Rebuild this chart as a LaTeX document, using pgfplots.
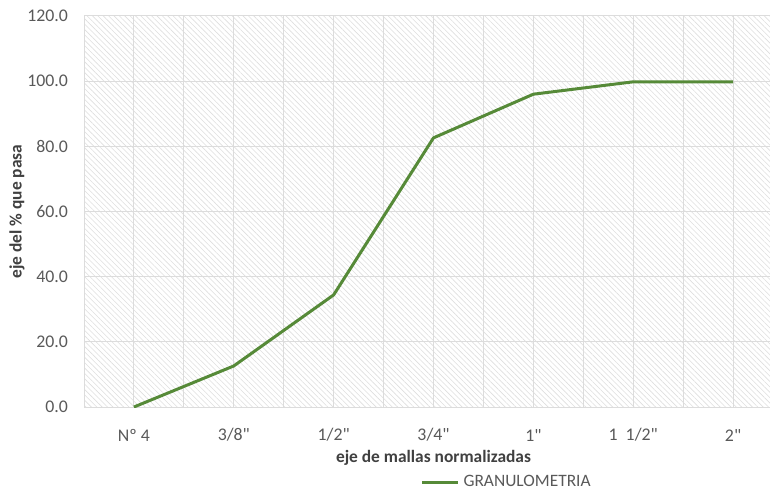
\documentclass[border=0pt]{standalone}
\usepackage{pgfplots}
\pgfplotsset{compat=1.18}
\usepackage{fontspec}
\setmainfont{Carlito}[Ligatures=TeXOff]
\usetikzlibrary{patterns.meta}
\definecolor{txtgray}{HTML}{595959}
\definecolor{titlegray}{HTML}{404040}
\definecolor{curve}{HTML}{568A38}
\definecolor{gridgray}{HTML}{DCDCDC}
\definecolor{hatch}{HTML}{DEDEDE}

\begin{document}
\begin{tikzpicture}
\begin{axis}[
  name=ax,
  scale only axis,
  width=349.5pt, height=195.5pt,
  xmin=-0.5, xmax=6.5, ymin=0, ymax=120,
  xtick={0,...,6},
  xticklabels={Nº 4, 3/8", 1/2", 3/4", 1", 1~~1/2", 2"},
  minor xtick={-0.5,0.5,...,6.5},
  ytick={0,20,...,120},
  grid=both,
  major grid style={gridgray, line width=0.5pt},
  minor grid style={gridgray, line width=0.5pt},
  axis line style={draw=none},
  major tick length=0pt, minor tick length=0pt,
  axis background/.style={
    pattern={Lines[angle=-45,distance=1.9pt,line width=0.3pt]},
    pattern color=hatch},
  font=\fontsize{8.9}{10}\selectfont,
  ticklabel style={text=txtgray},
  /pgf/number format/assume math mode=true,
  yticklabel={\pgfmathprintnumber[fixed,fixed zerofill,precision=1]{\tick}},
  yticklabel style={anchor=east, xshift=-4.5pt},
  xticklabel style={anchor=center, yshift=-14pt},
  every axis x label/.style={at={(axis description cs:0.5,-0.1304)}, anchor=center},
  every axis y label/.style={at={(axis description cs:-0.0959,0.5)}, rotate=90, anchor=center},
  label style={font=\fontsize{8.7}{10}\selectfont\bfseries, text=titlegray},
  xlabel={eje de mallas normalizadas},
  ylabel={eje del \% que pasa},
  legend style={at={(axis description cs:0.606,-0.1918)}, anchor=center,
    draw=none, fill=none, font=\fontsize{8.7}{10}\selectfont, text=txtgray},
  legend image code/.code={\draw[#1] (0pt,0pt) -- (18pt,0pt);},
]
\addplot[curve, line width=1.5pt, line join=round] coordinates {
  (0,0.0) (1,12.6) (2,34.4) (3,82.6) (4,96.0) (5,99.8) (6,99.8)
};
\addlegendentry{GRANULOMETRIA}
\end{axis}
\pgfresetboundingbox
\path ([xshift=-42pt,yshift=-43pt]ax.south west) rectangle ([xshift=343pt,yshift=8pt]ax.north west);
\end{tikzpicture}
\end{document}
